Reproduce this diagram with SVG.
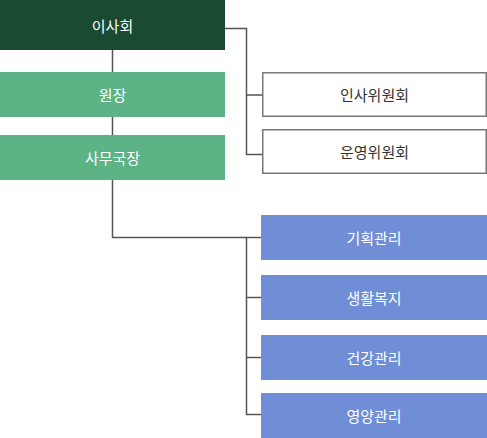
<svg xmlns="http://www.w3.org/2000/svg" width="487" height="438" viewBox="0 0 487 438">
<style>
text{font-family:"Noto Sans CJK KR","Noto Sans",sans-serif;font-size:15px;text-anchor:middle;dominant-baseline:central}
.w{fill:#ffffff}
.d{fill:#333333}
.dg{fill:#1b4a33}
.g{fill:#5bb386}
.b{fill:#6f8ed6}
.o{fill:#ffffff;stroke:#777777;stroke-width:1.5}
.c{fill:none;stroke:#555555;stroke-width:1.5}
</style>
<g id="connectors">
<path class="c" d="M112.5 50V72M112.5 117V135M112.5 180V237.5H261"/>
<path class="c" d="M225 28.5H246.5V154.5H262M246.5 95H262"/>
<path class="c" d="M246.5 237.5V414.5H261M246.5 297.5H261M246.5 357.5H261"/>
</g>
<g id="n1"><rect class="dg" x="0" y="0" width="225" height="50"/><text class="w" x="112.5" y="25">이사회</text></g>
<g id="n2"><rect class="g" x="0" y="72" width="225" height="45"/><text class="w" x="112.5" y="94.5">원장</text></g>
<g id="n3"><rect class="g" x="0" y="135" width="225" height="45"/><text class="w" x="112.5" y="157.5">사무국장</text></g>
<g id="n4"><rect class="o" x="262.75" y="72.75" width="223.5" height="43.5"/><text class="d" x="374.5" y="94.5">인사위원회</text></g>
<g id="n5"><rect class="o" x="262.75" y="129.75" width="223.5" height="43.5"/><text class="d" x="374.5" y="151.5">운영위원회</text></g>
<g id="n6"><rect class="b" x="261" y="215" width="226" height="45"/><text class="w" x="374" y="237.5">기획관리</text></g>
<g id="n7"><rect class="b" x="261" y="275" width="226" height="45"/><text class="w" x="374" y="297.5">생활복지</text></g>
<g id="n8"><rect class="b" x="261" y="335" width="226" height="45"/><text class="w" x="374" y="357.5">건강관리</text></g>
<g id="n9"><rect class="b" x="261" y="393" width="226" height="45"/><text class="w" x="374" y="415.5">영양관리</text></g>
</svg>
